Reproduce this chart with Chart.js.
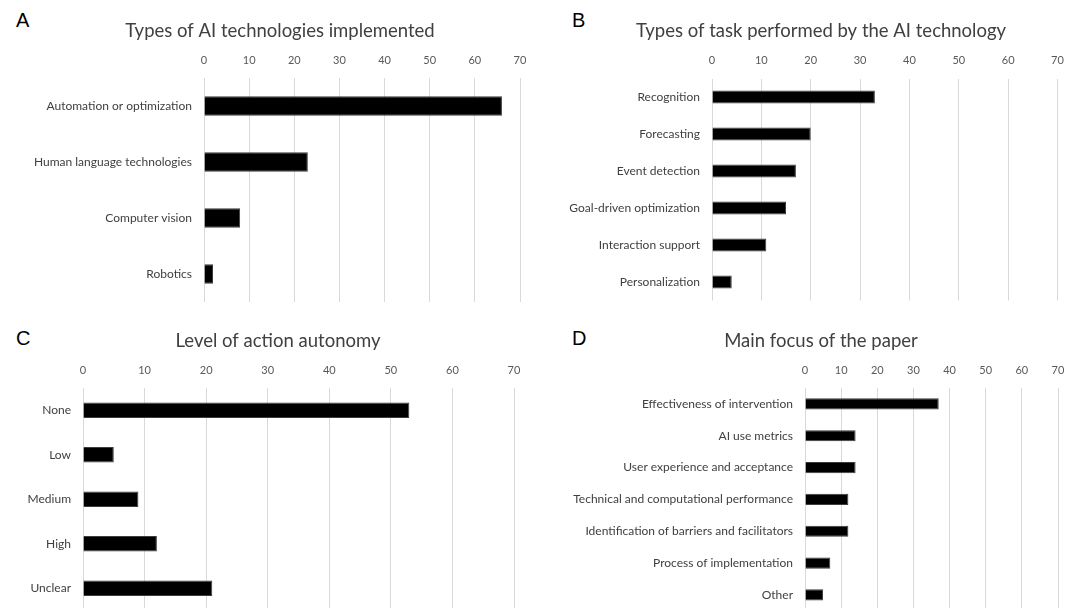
<!DOCTYPE html>
<html>
<head>
<meta charset="utf-8">
<script src="https://cdn.jsdelivr.net/npm/chart.js@4.4.1/dist/chart.umd.min.js"></script>
<style>
  html, body { margin: 0; padding: 0; background: #fff; }
  body { width: 1076px; height: 608px; overflow: hidden; position: relative; }
  canvas.panel { position: absolute; }
  .letter {
    position: absolute;
    font-family: "Liberation Sans", Arial, sans-serif;
    font-size: 20px;
    line-height: 1;
    color: #000;
  }
</style>
</head>
<body>
<div class="letter" style="left:16px;top:10px">A</div>
<div class="letter" style="left:572px;top:10px">B</div>
<div class="letter" style="left:16px;top:327.5px">C</div>
<div class="letter" style="left:572px;top:327.5px">D</div>

<canvas id="panelA" class="panel" width="565" height="304" style="left:0px;top:0px"></canvas>
<canvas id="panelB" class="panel" width="511" height="304" style="left:565px;top:0px"></canvas>
<canvas id="panelC" class="panel" width="554" height="302" style="left:0px;top:310px"></canvas>
<canvas id="panelD" class="panel" width="511" height="302" style="left:565px;top:310px"></canvas>

<script>
// Number of papers per category, one array per panel
const techLabels = ['Automation or optimization', 'Human language technologies', 'Computer vision', 'Robotics'];
const techCounts = [66, 23, 8, 2];

const taskLabels = ['Recognition', 'Forecasting', 'Event detection', 'Goal-driven optimization', 'Interaction support', 'Personalization'];
const taskCounts = [33, 20, 17, 15, 11, 4];

const autonomyLabels = ['None', 'Low', 'Medium', 'High', 'Unclear'];
const autonomyCounts = [53, 5, 9, 12, 21];

const focusLabels = ['Effectiveness of intervention', 'AI use metrics', 'User experience and acceptance',
  'Technical and computational performance', 'Identification of barriers and facilitators',
  'Process of implementation', 'Other'];
const focusCounts = [37, 14, 14, 12, 12, 7, 5];

// Shared value axis
const axisMin = 0;
const axisMax = 70;
const axisStep = 10;

const FONT = 'Lato, "Open Sans", sans-serif';
const TITLE_SIZE = 18.5;

// Category labels are wider than the axis box when left padding is used,
// so let the label clip region start at the canvas edge.
const widenLabelArea = {
  id: 'widenLabelArea',
  afterLayout(chart) {
    const y = chart.scales.y;
    if (y) y.left = 0;
  }
};

// box: plot rectangle in canvas pixels, plus the centre of the title
function drawPanel(id, title, labels, values, box) {
  const canvas = document.getElementById(id);
  const titleTop = box.titleY - TITLE_SIZE * 1.2 / 2;
  const titleBottom = titleTop + TITLE_SIZE * 1.2;
  // the title is centred between the left padding and the plot's right edge
  const padLeft = Math.max(0, 2 * box.titleX - box.right);
  return new Chart(canvas, {
    type: 'bar',
    data: {
      labels: labels,
      datasets: [{
        data: values,
        backgroundColor: '#000000',
        borderColor: '#3c3c3c',
        borderWidth: 1,
        barPercentage: 0.35,
        categoryPercentage: 1
      }]
    },
    plugins: [widenLabelArea],
    options: {
      indexAxis: 'y',
      responsive: false,
      animation: false,
      events: [],
      layout: {
        padding: {
          left: padLeft,
          top: 0,
          right: canvas.width - box.right,
          bottom: canvas.height - box.bottom
        }
      },
      plugins: {
        legend: { display: false },
        tooltip: { enabled: false },
        title: {
          display: true,
          text: title,
          color: '#404040',
          font: { family: FONT, size: TITLE_SIZE, weight: 'normal' },
          padding: { top: titleTop, bottom: 0 }
        }
      },
      scales: {
        x: {
          position: 'top',
          min: axisMin,
          max: axisMax,
          border: { display: false },
          grid: { color: '#d9d9d9', lineWidth: 1, drawTicks: false },
          ticks: {
            stepSize: axisStep,
            color: '#595959',
            font: { family: FONT, size: 11 },
            padding: box.tickPad
          },
          afterFit(scale) {
            scale.height = box.top - titleBottom;
            scale.paddingLeft = 0;
            scale.paddingRight = 0;
          }
        },
        y: {
          border: { display: false },
          grid: { display: false, drawTicks: false },
          ticks: {
            color: '#404040',
            font: { family: FONT, size: 12 },
            padding: 12,
            autoSkip: false
          },
          afterFit(scale) {
            scale.width = box.left - padLeft;
            scale.paddingTop = 0;
            scale.paddingBottom = 0;
          }
        }
      }
    }
  });
}

drawPanel('panelA', 'Types of AI technologies implemented', techLabels, techCounts,
  { titleX: 280, titleY: 31, left: 204, right: 520, top: 78, bottom: 302, tickPad: 10.5 });
drawPanel('panelB', 'Types of task performed by the AI technology', taskLabels, taskCounts,
  { titleX: 256, titleY: 31, left: 147, right: 492.5, top: 78.5, bottom: 300.5, tickPad: 11 });
drawPanel('panelC', 'Level of action autonomy', autonomyLabels, autonomyCounts,
  { titleX: 278, titleY: 31, left: 83, right: 514, top: 78, bottom: 300.5, tickPad: 10.5 });
drawPanel('panelD', 'Main focus of the paper', focusLabels, focusCounts,
  { titleX: 256, titleY: 31, left: 240, right: 493, top: 78, bottom: 300.8, tickPad: 10.5 });
</script>
</body>
</html>
